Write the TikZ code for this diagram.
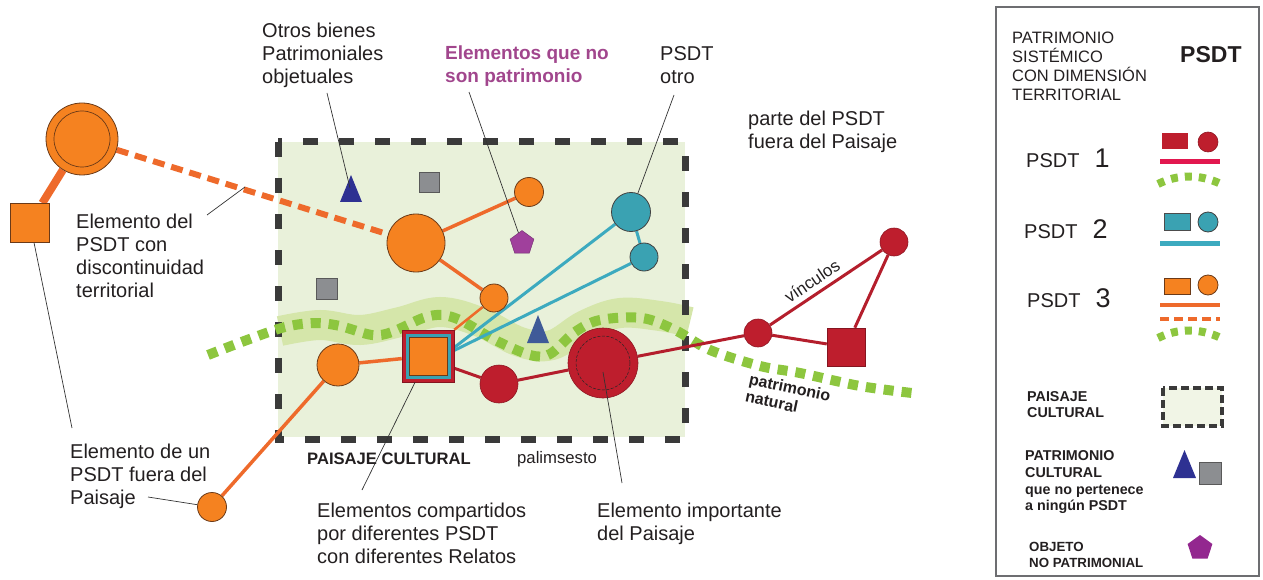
\documentclass[tikz,border=0pt]{standalone}
\usepackage{fontspec}
\setmainfont{Liberation Sans}
\usetikzlibrary{shapes.geometric}
\definecolor{orfill}{HTML}{F58220}
\definecolor{orline}{HTML}{EE6A2B}
\definecolor{ordk}{HTML}{6B3A18}
\definecolor{tealfill}{HTML}{3AA2B2}
\definecolor{tealline}{HTML}{3CAABF}
\definecolor{redfill}{HTML}{BE1E2D}
\definecolor{redline}{HTML}{B41E2C}
\definecolor{pinkline}{HTML}{E2174F}
\definecolor{dotgreen}{HTML}{8DC63F}
\definecolor{bandgreen}{HTML}{D5E6AA}
\definecolor{boxfill}{HTML}{E9F1DA}
\definecolor{legfill}{HTML}{F1F5E6}
\definecolor{dashdk}{HTML}{3A3A3A}
\definecolor{grayfill}{HTML}{8C8E91}
\definecolor{bluetri}{HTML}{2E3192}
\definecolor{slatetri}{HTML}{3F5A98}
\definecolor{pentfill}{HTML}{A0409C}
\definecolor{legpent}{HTML}{93278F}
\definecolor{purpletext}{HTML}{A1468D}
\definecolor{leadcol}{HTML}{333333}
\definecolor{legborder}{HTML}{6D6E71}
\definecolor{textdk}{HTML}{231F20}
\pgfdeclarelayer{bg}
\pgfsetlayers{bg,main}
\newcommand{\fsz}[2]{\fontsize{#1}{#2}\selectfont}
\tikzset{
  orc/.style={circle, fill=orfill, draw=ordk, line width=0.8pt, inner sep=0pt, minimum size=#1},
  tlc/.style={circle, fill=tealfill, draw=black!75, line width=0.8pt, inner sep=0pt, minimum size=#1},
  rdc/.style={circle, fill=redfill, draw=redfill!75!black, line width=0.6pt, inner sep=0pt, minimum size=#1},
  sqr/.style={rectangle, inner sep=0pt, minimum size=#1},
  gsq/.style={rectangle, fill=grayfill, draw=black!65, line width=0.7pt, inner sep=0pt, minimum size=#1},
  pent/.style={regular polygon, regular polygon sides=5, inner sep=0pt, minimum size=#1},
  orlink/.style={orline, line width=3.5pt},
  tllink/.style={tealline, line width=3pt},
  rdlink/.style={redline, line width=3pt},
  leaderline/.style={leadcol, line width=0.7pt},
  txt/.style={inner sep=0pt, text=textdk, align=left},
  greendots/.style={dotgreen, line width=10pt, dash pattern=on 10pt off 8pt},
  legdots/.style={dotgreen, line width=8pt, dash pattern=on 7pt off 7pt},
  landborder/.style={dashdk, line width=7pt, dash pattern=on 15pt off 21pt}
}
\begin{document}
\begin{tikzpicture}[x=1pt,y=-1pt]
\useasboundingbox (0,0) rectangle (1263,580);

% ---------- nodes ----------
\node[orc=72] (topo) at (82,139) {};
\node[sqr=39, fill=orfill, draw=ordk, line width=0.8pt] (lsq) at (30,223) {};
\node[orc=58] (orbig) at (416,243) {};
\node[orc=29] (orsmall) at (529,192) {};
\node[orc=28] (ormid) at (494,298) {};
\node[orc=42] (orleft) at (338,365) {};
\node[orc=29] (orbot) at (212,507) {};
\node[tlc=39] (tealA) at (631,212) {};
\node[tlc=28] (tealB) at (644,257) {};
\node[sqr=52, fill=redfill, draw=redfill!70!black, line width=0.5pt] (shared) at (428,356) {};
\node[sqr=45, fill=tealfill] (sharedT) at (shared) {};
\node[sqr=38, fill=orfill, draw=ordk, line width=0.5pt] (sharedO) at (shared) {};
\node[rdc=38] (redsm) at (499,384) {};
\node[rdc=70] (bigred) at (603,363) {};
\node[rdc=28] (redr) at (758,333) {};
\node[rdc=28] (redtr) at (894,242) {};
\node[sqr=38, fill=redfill, draw=redfill!70!black, line width=0.5pt] (redsq) at (846,347) {};
\node[gsq=20] (grayA) at (429,182) {};
\node[gsq=21] (grayB) at (327,289) {};
\node[pent=25, fill=pentfill, draw=pentfill!70!black, line width=0.4pt] (pent) at (522,243) {};
\fill[bluetri] (340,202) -- (351,175) -- (362,202) -- cycle;
\coordinate (triA) at (350,188);
\fill[slatetri] (527,343) -- (538,315) -- (549,343) -- cycle;

% inner rings
\draw[ordk, line width=0.7pt] (topo) circle (28);
\draw[black!85, line width=0.5pt, dash pattern=on 3pt off 1.5pt] (bigred) circle (27);

% ---------- background: landscape, band, dots, links ----------
\begin{pgfonlayer}{bg}
\fill[boxfill] (278,142) rectangle (685,437);
\draw[bandgreen, line width=30pt] plot[smooth, tension=0.6] coordinates
  {(280,331) (320,325) (360,330) (400,322) (440,312) (480,322) (520,342) (552,345) (585,325) (620,313) (660,316) (690,322)};
\draw[landborder] (278,142) rectangle (685,439);
\draw[greendots] plot[smooth, tension=0.55] coordinates
  {(208,355) (247,340) (285,327) (315,323) (340,326) (372,335) (392,332) (423,318) (442,315) (462,321) (495,340) (530,355) (550,354) (575,332) (600,320) (642,318) (675,330) (710,350) (760,366) (800,373) (860,386) (912,393)};
% orange PSDT 3
\draw[orline, line width=6pt, dash pattern=on 12pt off 7pt] (topo) -- (orbig);
\draw[orline, line width=8pt] (topo) -- (lsq);
\draw[orlink] (orbig) -- (orsmall);
\draw[orlink] (orbig) -- (ormid);
\draw[orline, line width=2.5pt] (ormid) -- (shared.north east);
\draw[orlink] (orleft) -- (shared);
\draw[orlink] (orleft) -- (orbot);
% teal PSDT 2
\draw[tllink] (tealA) -- (shared.18);
\draw[tllink] (tealB) -- (shared.12);
\draw[tllink] (tealA) -- (tealB);
% red PSDT 1
\draw[rdlink] (shared.-25) -- (redsm);
\draw[rdlink] (redsm) -- (bigred);
\draw[rdlink] (bigred) -- (redr);
\draw[rdlink] (redr) -- (redtr);
\draw[rdlink] (redr) -- (redsq);
\draw[rdlink] (redsq) -- (redtr);
\end{pgfonlayer}

% ---------- labels ----------
\node[txt, anchor=north west, font=\fsz{20}{23}] (lotros) at (262,23) {Otros bienes\\Patrimoniales\\objetuales};
\node[txt, anchor=north west, font=\fsz{19}{23}\bfseries, text=purpletext] (lnopat) at (445,46) {Elementos que no\\son patrimonio};
\node[txt, anchor=north west, font=\fsz{20}{23}] (lotro) at (660,46.5) {PSDT\\otro};
\node[txt, anchor=north west, font=\fsz{20}{23}] (lfuera) at (748,111) {parte del PSDT\\fuera del Paisaje};
\node[txt, anchor=north west, font=\fsz{20}{23}] (ldisc) at (76,214) {Elemento del\\PSDT con\\discontinuidad\\territorial};
\node[txt, anchor=north west, font=\fsz{20}{23}] (lfuerap) at (70,444) {Elemento de un\\PSDT fuera del\\Paisaje};
\node[txt, anchor=north west, font=\fsz{16.6}{20}\bfseries] (lpaisaje) at (307,452.5) {PAISAJE CULTURAL};
\node[txt, anchor=north west, font=\fsz{16.7}{20}] (lpalim) at (517,451.5) {palimsesto};
\node[txt, anchor=north west, font=\fsz{20}{23}] (lcomp) at (317,502.5) {Elementos compartidos\\por diferentes PSDT\\con diferentes Relatos};
\node[txt, anchor=north west, font=\fsz{20}{23}] (limp) at (597,502.5) {Elemento importante\\del Paisaje};
\node[txt, rotate=-12, font=\fsz{16}{18}\bfseries] (lnat) at (788,396) {patrimonio\\natural};
\node[txt, rotate=34, font=\fsz{17}{20}] (lvinc) at (812,281) {vínculos};

% ---------- leaders ----------
\coordinate (a1) at (327,93);
\coordinate (a2) at (469,92);
\coordinate (a3) at (674,95);
\coordinate (a4) at (207,215);
\coordinate (b4) at (245,187);
\coordinate (a5) at (72,428);
\coordinate (a6) at (148,497);
\coordinate (a7) at (362,490);
\coordinate (a8) at (622,483);
\coordinate (b8) at (603,372);
\draw[leaderline] (a1) -- (triA);
\draw[leaderline] (a2) -- (pent);
\draw[leaderline] (a3) -- (tealA);
\draw[leaderline] (a4) -- (b4);
\draw[leaderline] (lsq) -- (a5);
\draw[leaderline] (a6) -- (orbot);
\draw[leaderline] (a7) -- (shared);
\draw[leaderline] (a8) -- (b8);

% ---------- legend ----------
\draw[legborder, line width=1.5pt] (996,7) rectangle (1259,576);
\node[txt, anchor=north west, font=\fsz{16.5}{19}] (ltitle) at (1012,32) {PATRIMONIO\\SIST\'EMICO\\CON DIMENSI\'ON\\TERRITORIAL};
\node[txt, anchor=north west, font=\fsz{23}{26}\bfseries] (lpsdt) at (1180,46.5) {PSDT};

\node[txt, anchor=base west, font=\fsz{20}{23}] (lp1) at (1026,168) {PSDT\hspace{15pt}{\fsz{27}{30}1}};
\node[sqr=1, minimum width=26, minimum height=16, fill=redfill] (k1r) at (1175,141) {};
\node[rdc=20] (k1c) at (1208,142) {};
\draw[pinkline, line width=5pt] (1160,162) -- (1220,162);
\draw[legdots] (1158,184) .. controls (1178,174) and (1200,174) .. (1221,184);

\node[txt, anchor=base west, font=\fsz{20}{23}] (lp2) at (1024,238) {PSDT\hspace{15pt}{\fsz{27}{30}2}};
\node[sqr=1, minimum width=26, minimum height=17, fill=tealfill, draw=black!70, line width=0.6pt] (k2r) at (1177,222) {};
\node[tlc=20] (k2c) at (1208,222) {};
\draw[tealline, line width=5pt] (1160,243) -- (1220,243);

\node[txt, anchor=base west, font=\fsz{20}{23}] (lp3) at (1027,307) {PSDT\hspace{15pt}{\fsz{27}{30}3}};
\node[sqr=1, minimum width=26, minimum height=16, fill=orfill, draw=ordk, line width=0.6pt] (k3r) at (1177,286) {};
\node[orc=20] (k3c) at (1208,285) {};
\draw[orline, line width=4.5pt] (1160,305) -- (1220,305);
\draw[orline, line width=4.5pt, dash pattern=on 9pt off 5pt] (1160,319) -- (1220,319);
\draw[legdots] (1158,338) .. controls (1178,328) and (1200,328) .. (1221,338);

\node[txt, anchor=north west, font=\fsz{14.3}{16.7}\bfseries] (lpc) at (1027,391) {PAISAJE\\CULTURAL};
\draw[dashdk, fill=legfill, line width=3.5pt, dash pattern=on 8pt off 4pt] (1163,388) rectangle (1222,426);

\node[txt, anchor=north west, font=\fsz{14.3}{16.7}\bfseries] (lpat) at (1025,450.5) {PATRIMONIO\\CULTURAL\\que no pertenece\\a ning\'un PSDT};
\fill[bluetri] (1173,478) -- (1184.5,450) -- (1196,478) -- cycle;
\node[gsq=22] (k4s) at (1210,473) {};

\node[txt, anchor=north west, font=\fsz{13.3}{16}\bfseries] (lobj) at (1029,542) {OBJETO\\NO PATRIMONIAL};
\node[pent=26, fill=legpent] (k5p) at (1200,548) {};
\end{tikzpicture}
\end{document}
